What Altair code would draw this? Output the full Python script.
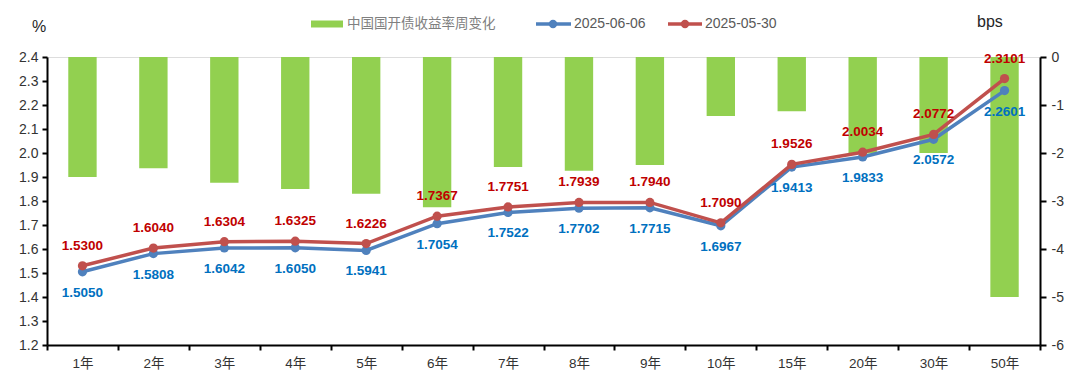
import altair as alt
import pandas as pd

cats = ["1年", "2年", "3年", "4年", "5年", "6年", "7年", "8年", "9年", "10年", "15年", "20年", "30年", "50年"]
y0606 = [1.5050, 1.5808, 1.6042, 1.6050, 1.5941, 1.7054, 1.7522, 1.7702, 1.7715, 1.6967, 1.9413, 1.9833, 2.0572, 2.2601]
y0530 = [1.5300, 1.6040, 1.6304, 1.6325, 1.6226, 1.7367, 1.7751, 1.7939, 1.7940, 1.7090, 1.9526, 2.0034, 2.0772, 2.3101]
chg_bps = [-2.50, -2.32, -2.62, -2.75, -2.85, -3.13, -2.29, -2.37, -2.25, -1.23, -1.13, -2.01, -2.00, -5.00]
left_ticks = [1.2, 1.3, 1.4, 1.5, 1.6, 1.7, 1.8, 1.9, 2.0, 2.1, 2.2, 2.3, 2.4]
right_ticks = [0, -1, -2, -3, -4, -5, -6]

FONT = "Liberation Sans, 'Noto Sans CJK SC', sans-serif"
BLUE_LINE = "#4F81BD"
RED_LINE = "#C0504D"
BLUE_TXT = "#0070C0"
RED_TXT = "#C00000"
GREEN = "#92D050"
AXC = "#333333"

df_bar = pd.DataFrame({"cat": cats, "bps": chg_bps})
df_b = pd.DataFrame({"cat": cats, "v": y0606})
df_r = pd.DataFrame({"cat": cats, "v": y0530})

xenc = alt.X("cat:N", sort=cats, title=None,
             scale=alt.Scale(paddingInner=0, paddingOuter=0),
             axis=alt.Axis(labelAngle=0, tickBand="extent", labelFont=FONT, labelFontSize=13.5,
                           labelColor=AXC, domainColor="#000000", tickColor="#000000",
                           tickSize=5, labelPadding=6, domainWidth=2, tickWidth=2))

bars = alt.Chart(df_bar).mark_bar(color=GREEN, width={"band": 0.4}).encode(
    x=xenc,
    y=alt.Y("bps:Q", scale=alt.Scale(domain=[-6, 0], nice=False, zero=False),
            axis=alt.Axis(orient="right", values=right_ticks,
                          labelExpr="datum.value == 0 ? '0' : '-' + abs(datum.value)",
                          title=None, grid=False, labelFont=FONT, labelFontSize=14,
                          labelColor=AXC, domainColor="#000000", tickColor="#000000",
                          tickSize=6, labelPadding=5, domainWidth=2, tickWidth=2)),
)

yscale = alt.Scale(domain=[1.2, 2.4], nice=False, zero=False)
yaxis = alt.Axis(orient="left", values=left_ticks, format=".1f",
                 title=None, grid=False, labelFont=FONT, labelFontSize=14, labelColor=AXC,
                 domainColor="#000000", tickColor="#000000", tickSize=5, labelPadding=4,
                 domainWidth=2, tickWidth=2)


def series(df, col_line, col_txt, dy):
    base = alt.Chart(df).encode(
        x=alt.X("cat:N", sort=cats),
        y=alt.Y("v:Q", scale=yscale, axis=yaxis),
    )
    line = base.mark_line(color=col_line, strokeWidth=3.5)
    pts = base.mark_circle(color=col_line, size=85, opacity=1)
    txt = base.mark_text(color=col_txt, dy=dy, font=FONT, fontSize=13.5, fontWeight="bold").encode(
        text=alt.Text("v:Q", format=".4f"))
    return [line, pts, txt]


lines = alt.layer(*series(df_b, BLUE_LINE, BLUE_TXT, 21),
                  *series(df_r, RED_LINE, RED_TXT, -20))

one = pd.DataFrame({"a": [0]})


def txt(s, x, y, color="#404040", size=14, align="left"):
    return alt.Chart(one).mark_text(text=s, align=align, baseline="middle", font=FONT,
                                    fontSize=size, color=color).encode(
        x=alt.value(x), y=alt.value(y))


leg_rect = alt.Chart(one).mark_rect(color=GREEN).encode(
    x=alt.value(264), x2=alt.value(296), y=alt.value(-36.5), y2=alt.value(-29.5))
leg_bl = alt.Chart(one).mark_rule(color=BLUE_LINE, strokeWidth=3.5).encode(
    x=alt.value(489), x2=alt.value(524), y=alt.value(-33))
leg_bp = alt.Chart(one).mark_circle(color=BLUE_LINE, size=70, opacity=1).encode(
    x=alt.value(506), y=alt.value(-33))
leg_rl = alt.Chart(one).mark_rule(color=RED_LINE, strokeWidth=3.5).encode(
    x=alt.value(621), x2=alt.value(655), y=alt.value(-33))
leg_rp = alt.Chart(one).mark_circle(color=RED_LINE, size=70, opacity=1).encode(
    x=alt.value(638), y=alt.value(-33))

legend = [
    leg_rect, txt("中国国开债收益率周变化", 300, -33, color="#808080", size=13.5),
    leg_bl, leg_bp, txt("2025-06-06", 527, -33, color="#595959", size=14),
    leg_rl, leg_rp, txt("2025-05-30", 658, -33, color="#595959", size=14),
    txt("%", -15, -30, color="#262626", size=16),
    txt("bps", 930, -35, color="#262626", size=16),
]

chart = alt.layer(bars, lines, *legend).resolve_scale(y="independent").properties(
    width=993, height=288,
    padding={"left": 39, "top": 49, "right": 30, "bottom": 26},
    autosize=alt.AutoSizeParams(type="none"),
).configure_view(stroke=None).configure(background="white")

chart.save("out.html", embed_options={"renderer": "svg", "actions": False})
